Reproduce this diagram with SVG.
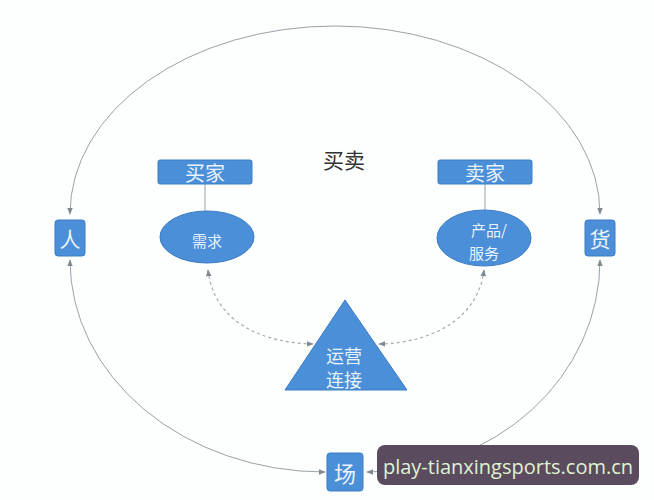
<svg xmlns="http://www.w3.org/2000/svg" width="654" height="500" viewBox="0 0 654 500">
<defs>
<marker id="ah" viewBox="0 0 10 10" refX="9" refY="5" markerWidth="7" markerHeight="7" orient="auto-start-reverse" markerUnits="userSpaceOnUse">
<path d="M0,1 L10,5 L0,9 Z" fill="#7f8a90"/>
</marker>
<style>
.blue{fill:#4a8fd8;stroke:#3b7cc4;stroke-width:1}
.wt{fill:#eaf3fc;font-family:"Noto Sans CJK SC","Noto Sans",sans-serif;text-anchor:middle;dominant-baseline:central}
.conn{fill:none;stroke:#9aa3a8;stroke-width:1}
.dash{fill:none;stroke:#a3abb0;stroke-width:1.2;stroke-dasharray:3 3}
</style>
</defs>
<rect width="654" height="500" fill="#fdfefe"/>
<g id="connectors">
<path class="conn" d="M70,214 A265,188 0 0 1 600,214" marker-start="url(#ah)" marker-end="url(#ah)"/>
<path class="conn" d="M70,260 A255,212 0 0 0 325,472" marker-start="url(#ah)" marker-end="url(#ah)"/>
<path class="conn" d="M600,260 A233,212 0 0 1 367,472" marker-start="url(#ah)" marker-end="url(#ah)"/>
<path class="conn" d="M205,184 V211"/>
<path class="conn" d="M485,184 V211"/>
<path class="dash" d="M208,270 C214,322 262,343 313,344" marker-start="url(#ah)" marker-end="url(#ah)"/>
<path class="dash" d="M484,270 C478,320 430,343 379,344" marker-start="url(#ah)" marker-end="url(#ah)"/>
</g>
<g id="title"><text x="344" y="159" font-family="'Noto Sans CJK SC',sans-serif" font-size="21" fill="#333" text-anchor="middle" dominant-baseline="central">买卖</text></g>
<g id="ren"><rect class="blue" x="55" y="220" width="30" height="36" rx="3"/><text class="wt" x="70" y="238" font-size="21">人</text></g>
<g id="huo"><rect class="blue" x="585" y="220" width="30" height="36" rx="3"/><text class="wt" x="600" y="238" font-size="21">货</text></g>
<g id="chang"><rect class="blue" x="327" y="453" width="36" height="38" rx="3"/><text class="wt" x="345" y="472" font-size="22">场</text></g>
<g id="maijia"><rect class="blue" x="158" y="160" width="94" height="24" rx="2"/><text class="wt" x="205" y="172" font-size="20">买家</text></g>
<g id="xuqiu"><ellipse class="blue" cx="207" cy="237" rx="47" ry="26"/><text class="wt" x="207" y="240" font-size="15">需求</text></g>
<g id="maijia2"><rect class="blue" x="438" y="160" width="94" height="24" rx="2"/><text class="wt" x="485" y="172" font-size="20">卖家</text></g>
<g id="chanpin"><ellipse class="blue" cx="484" cy="238" rx="47" ry="28"/><text class="wt" x="489" y="229" font-size="15">产品/</text><text class="wt" x="484" y="252" font-size="15">服务</text></g>
<g id="yunying"><polygon class="blue" points="345,300 285,390 407,390"/><text class="wt" x="344" y="355" font-size="18">运营</text><text class="wt" x="344" y="379" font-size="18">连接</text></g>
<g id="watermark"><rect x="377" y="445" width="262" height="40" rx="8" fill="#5b4b5f"/><text x="508" y="466" font-family="'Open Sans','Noto Sans',sans-serif" font-size="20" fill="#dff3d0" text-anchor="middle" dominant-baseline="central">play-tianxingsports.com.cn</text></g>
</svg>
